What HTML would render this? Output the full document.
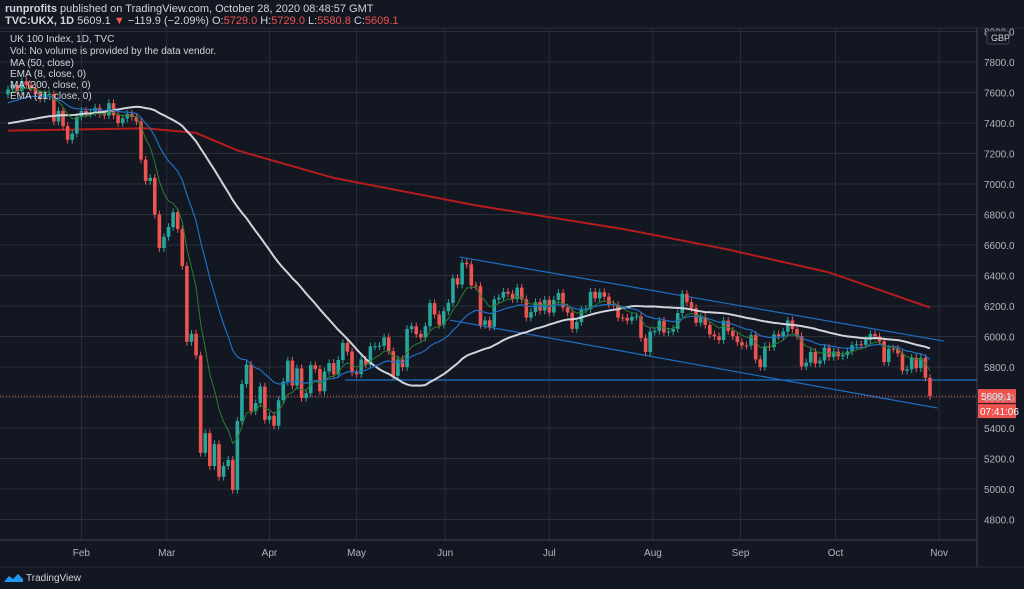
<!DOCTYPE html>
<html><head><meta charset="utf-8"><style>
body{margin:0;background:#131722;width:1024px;height:589px;overflow:hidden;font-family:"Liberation Sans",sans-serif}
svg{display:block}
</style></head><body>
<svg id="c" width="1024" height="589" xmlns="http://www.w3.org/2000/svg">
<rect width="1024" height="589" fill="#131722"/>
<g id="grid"></g>
<line x1="977" y1="28" x2="977" y2="567" stroke="#434651"/>
<line x1="0" y1="28" x2="1024" y2="28" stroke="#2a2e39"/>
<line x1="0" y1="567" x2="1024" y2="567" stroke="#2a2e39"/>
<line x1="0" y1="540" x2="977" y2="540" stroke="#434651"/>
<g id="marks"></g>
<g id="labels" font-size="10" fill="#b2b5be"></g>
<text x="5" y="12" font-size="11" fill="#d1d4dc"><tspan font-weight="bold">runprofits</tspan> published on TradingView.com, October 28, 2020 08:48:57 GMT</text>
<text x="5" y="24" font-size="11" fill="#d1d4dc"><tspan font-weight="bold">TVC:UKX, 1D</tspan> 5609.1 <tspan fill="#ef5350">▼</tspan> −119.9 (−2.09%) O:<tspan fill="#ef5350">5729.0</tspan> H:<tspan fill="#ef5350">5729.0</tspan> L:<tspan fill="#ef5350">5580.8</tspan> C:<tspan fill="#ef5350">5609.1</tspan></text>
<g font-size="10" fill="#d1d4dc">
<text x="10" y="42">UK 100 Index, 1D, TVC</text>
<text x="10" y="54">Vol: No volume is provided by the data vendor.</text>
<text x="10" y="66">MA (50, close)</text>
<text x="10" y="77">EMA (8, close, 0)</text>
<text x="10" y="88">MA (200, close, 0)</text>
<text x="10" y="99">EMA (21, close, 0)</text>
</g>
<rect x="987" y="31" width="22" height="13" rx="2" fill="#131722" stroke="#434651"/>
<text x="991" y="41" font-size="9" fill="#d1d4dc">GBP</text>
<g>
<path d="M4 582 l5 -6 4 3 5 -5 5 5 v3z" fill="#2196f3"/>
<text x="26" y="581" font-size="10" fill="#d1d4dc">TradingView</text>
</g>
</svg>
<script>
const priorCloses=[7302,7369,7388,7396,7406,7359,7328,7241,7351,7365,7292,7302,7307,7323,7262,7326,7238,7326,7416,7347,7286,7285,7188,7158,7240,7137,7233,7216,7240,7287,7351,7273,7287,7519,7353,7525,7573,7582,7530,7617,7633,7645,7587,7644,7542,7604,7575,7622,7575,7587];
const closes=[7620,7650,7610,7675,7650,7630,7590,7560,7590,7590,7410,7480,7380,7290,
7330,7440,7480,7460,7470,7500,7460,7450,7530,7450,7400,7430,7460,7440,7410,7160,7020,7040,6800,6580,
6654,6718,6815,6705,6462,5965,6018,5876,5237,5366,5151,5294,5080,5151,5191,4994,5446,5688,5816,5510,5563,5672,
5454,5480,5415,5582,5704,5842,5678,5791,5597,5628,5812,5787,5641,5770,5826,5752,5846,5958,5901,5763,
5753,5849,5816,5935,5936,5939,5994,5904,5742,5850,5799,6049,6067,6016,5993,6068,6219,6144,6077,
6166,6221,6382,6341,6484,6473,6335,6330,6076,6106,6064,6243,6254,6293,6281,6245,6320,6244,6124,6160,6225,6170,
6240,6157,6240,6286,6190,6157,6050,6095,6176,6180,6293,6250,6290,6261,6212,6207,6124,6123,6104,6129,6131,5990,5898,
6032,6036,6104,6026,6032,6050,6154,6280,6225,6186,6090,6127,6076,6013,6001,5977,6104,6037,6001,5963,
5941,5940,6009,5850,5799,5937,5930,6014,6003,6032,6105,6049,6003,5804,5829,5899,5823,5842,5927,5866,5901,5870,
5879,5902,5942,5949,5946,5979,6016,6001,5969,5832,5920,5919,5889,5776,5785,5860,5792,5860,5729,5609];
const ma200Idx=[0,30,41,50,71,102,135,157,179,201];
const ma200Vals=[7350,7365,7335,7220,7040,6860,6700,6570,6420,6190];
const priceTicks=[4800,5000,5200,5400,5600,5800,6000,6200,6400,6600,6800,7000,7200,7400,7600,7800,8000];
const monthLabels=["Feb","Mar","Apr","May","Jun","Jul","Aug","Sep","Oct","Nov"];
const monthIdx=[16,34.6,57,76,95.3,118,140.6,159.7,180.4,203];
const upperChannel=[[98.5,6521],[204,5970]];
const lowerChannel=[[96.3,6108],[202.6,5531]];
const supportLevel=5715;
const lastPrice=5609.1;

const NS="http://www.w3.org/2000/svg";
const N=closes.length;
const x=i=>8+i*(922/(N-1));
const y=v=>367-(v-5800)*0.1525;
function mk(tag,attrs,parent){const e=document.createElementNS(NS,tag);for(const k in attrs)e.setAttribute(k,attrs[k]);parent.appendChild(e);return e;}
const grid=document.getElementById('grid'),marks=document.getElementById('marks'),labels=document.getElementById('labels');
priceTicks.forEach(v=>{
  const l=mk('line',{x1:0,x2:977,y1:y(v),y2:y(v),stroke:'#2a2e39'},grid);
  
  
  const t=mk('text',{x:984,y:y(v)+4},labels);t.textContent=v.toFixed(1);
  
  
});
monthLabels.forEach((m,k)=>{
  const xx=x(monthIdx[k]);
  const l=mk('line',{x1:xx,x2:xx,y1:28,y2:540,stroke:'#2a2e39'},grid);
  
  
  const t=mk('text',{x:xx,y:556,'text-anchor':'middle'},labels);t.textContent=m;
  
  
});
const all=priorCloses.concat(closes),P=priorCloses.length;
function sma(n){return closes.map((c,i)=>{let s=0;for(let k=0;k<n;k++)s+=all[P+i-k];return s/n;});}
function ema(n){const a=2/(n+1);let e=priorCloses.slice(0,n).reduce((p,c)=>p+c,0)/n;for(let k=n;k<P;k++)e=a*all[k]+(1-a)*e;return closes.map(c=>e=a*c+(1-a)*e);}
function poly(vals,color,w,name){const p=mk('polyline',{points:vals.map((v,i)=>x(i)+','+y(v)).join(' '),fill:'none',stroke:color,'stroke-width':w},marks);

}
const ma200pts=ma200Idx.map((ix,k)=>x(ix)+','+y(ma200Vals[k])).join(' ');
const m2=mk('polyline',{points:ma200pts,fill:'none',stroke:'#b71c1c','stroke-width':2},marks);


[[upperChannel,'upper-channel'],[lowerChannel,'lower-channel']].forEach(([c,n])=>{
  const l=mk('line',{x1:x(c[0][0]),y1:y(c[0][1]),x2:x(c[1][0]),y2:y(c[1][1]),stroke:'#1e6fc4','stroke-width':1.2},marks);
  
  
});
const sl=mk('line',{x1:345,x2:977,y1:y(supportLevel),y2:y(supportLevel),stroke:'#1e6fc4','stroke-width':1.2},marks);


const lp=mk('line',{x1:0,x2:977,y1:y(lastPrice),y2:y(lastPrice),stroke:'#ef5350','stroke-dasharray':'1,2'},marks);


closes.forEach((c,i)=>{
  const o=i?closes[i-1]:priorCloses[P-1];
  const up=c>=o,col=up?'#26a69a':'#ef5350';
  const hi=Math.max(o,c)+25,lo=Math.min(o,c)-25;
  const g=mk('g',{},marks);
  
  
  mk('line',{x1:x(i),x2:x(i),y1:y(hi),y2:y(lo),stroke:col},g);
  const top=y(Math.max(o,c)),h=Math.max(1,y(Math.min(o,c))-top);
  mk('rect',{x:x(i)-1.8,y:top,width:3.6,height:h,fill:col},g);
});
poly(sma(50),'#d1d4dc',2,'ma50-line');
poly(ema(21),'#1e6fc4',1.2,'ema21-line');
poly(ema(8),'#2e7d32',1,'ema8-line');
const pt=mk('rect',{x:978,y:y(lastPrice)-7,width:38,height:14,fill:'#ef5350'},marks);


const tt=mk('text',{x:981,y:y(lastPrice)+4,'font-size':10,fill:'#fff'},marks);tt.textContent=lastPrice.toFixed(1);
const ct=mk('rect',{x:978,y:y(lastPrice)+8,width:38,height:14,fill:'#ef5350'},marks);


const tc=mk('text',{x:980,y:y(lastPrice)+19,'font-size':10,fill:'#fff'},marks);tc.textContent='07:41:06';
</script>
</body></html>
